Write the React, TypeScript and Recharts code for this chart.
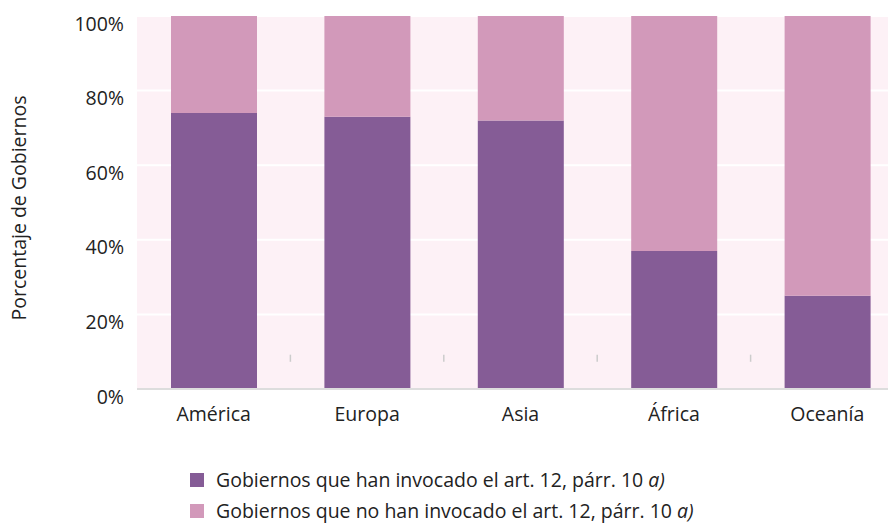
import React from 'react';
import { BarChart, Bar, XAxis, YAxis, CartesianGrid, Legend, ReferenceLine } from 'recharts';

const regions = ['América', 'Europa', 'Asia', 'África', 'Oceanía'];
const invoked = [74, 73, 72, 37, 25];
const notInvoked = [26, 27, 28, 63, 75];
const yTicks = [0, 20, 40, 60, 80, 100];
const boundaryRegions = ['Europa', 'Asia', 'África', 'Oceanía'];

const seriesNames = [
  'Gobiernos que han invocado el art. 12, párr. 10 ',
  'Gobiernos que no han invocado el art. 12, párr. 10 ',
];
const colors = ['#855C96', '#D299BA'];

const data = regions.map((r, i) => ({ region: r, a: invoked[i], b: notInvoked[i] }));

const FONT = '"Open Sans", sans-serif';

const renderLegend = () => (
  <div style={{ height: 104, paddingTop: 50, paddingLeft: 190, boxSizing: 'border-box', fontFamily: FONT, fontSize: 19.5, lineHeight: '22px', color: '#222' }}>
    {seriesNames.map((n, i) => (
      <div key={n} style={{ display: 'flex', alignItems: 'center', height: 22, marginBottom: i === 0 ? 9 : 0, whiteSpace: 'nowrap' }}>
        <span style={{ display: 'inline-block', width: 14, height: 14, background: colors[i], marginRight: 12 }} />
        <span style={{ lineHeight: '22px' }}>{n}<i>a)</i></span>
      </div>
    ))}
  </div>
);

const YTick = (props: any) => {
  const { x, y, payload } = props;
  return (
    <text x={x} y={y + 7} textAnchor="end" dominantBaseline="central" fill="#222" fontSize={19.5} fontFamily={FONT}>
      {`${payload.value}%`}
    </text>
  );
};

export default function App() {
  return (
    <div style={{ position: 'absolute', left: 0, top: 0, width: 888, height: 525, overflow: 'hidden', background: '#fff' }}>
      <BarChart width={904} height={523} data={data} margin={{ top: 16, right: 0, left: 0, bottom: 0 }}>
        <CartesianGrid vertical={false} stroke="#ffffff" strokeWidth={2} fill="#FDF1F6" />
        <XAxis
          dataKey="region"
          axisLine={{ stroke: '#dddddd', strokeWidth: 2 }}
          tickLine={false}
          height={30}
          tickMargin={12}
          tick={{ fill: '#222', fontSize: 19.5, fontFamily: FONT }}
        />
        <YAxis
          width={137}
          domain={[0, 100]}
          ticks={yTicks}
          axisLine={false}
          tickLine={false}
          tickMargin={7}
          tick={<YTick />}
          label={{
            content: () => (
              <text x={18} y={208} transform="rotate(-90 18 208)" textAnchor="middle" dominantBaseline="central" fontSize={19.5} fontFamily={FONT} fill="#222">
                Porcentaje de Gobiernos
              </text>
            ),
          }}
        />
        {boundaryRegions.map((b) => (
          <ReferenceLine key={b} position="start" segment={[{ x: b, y: 7.3 }, { x: b, y: 9.2 }]} stroke="#cccccc" strokeWidth={1.5} />
        ))}
        <Bar dataKey="a" stackId="s" fill={colors[0]} barSize={86} isAnimationActive={false} />
        <Bar dataKey="b" stackId="s" fill={colors[1]} barSize={86} isAnimationActive={false} />
        <Legend verticalAlign="bottom" content={renderLegend} />
      </BarChart>
    </div>
  );
}
